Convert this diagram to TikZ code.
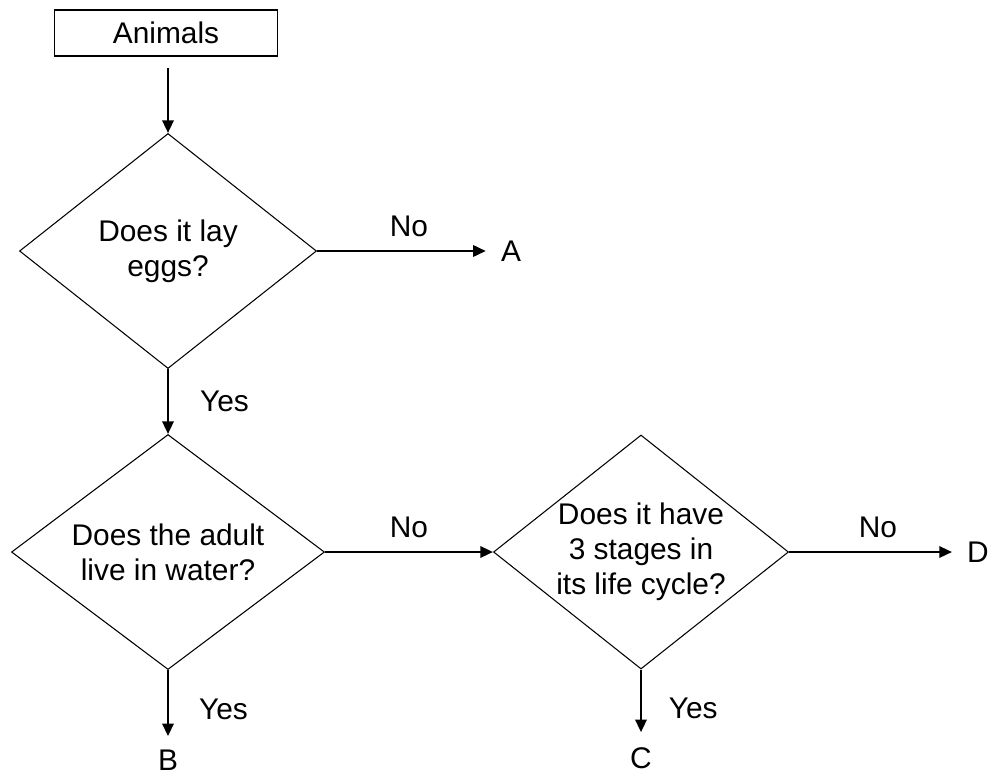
\documentclass[tikz,border=0pt]{standalone}
\usepackage{fontspec}
\setmainfont{Liberation Sans}
\usetikzlibrary{arrows.meta, shapes.geometric}

\begin{document}
\begin{tikzpicture}[x=0.03cm, y=-0.03cm, >={Triangle[length=0.38cm, width=0.34cm]},
  every node/.style={font=\fontsize{25.5}{30}\selectfont},
  startbox/.style={draw, line width=1.2pt, minimum width=6.69cm, minimum height=1.38cm, inner sep=0pt},
  decision/.style={diamond, draw, line width=0.9pt, inner sep=0pt, align=center},
  flow/.style={->, line width=2pt},
  lbl/.style={inner sep=0pt}]
\useasboundingbox (0,0) rectangle (992,778);
% start and questions
\node[startbox] (animals) at (166,33) {Animals};
\node[decision, aspect=1.26, minimum width=8.91cm, minimum height=7.05cm] (eggs) at (168,251) {Does it lay\\eggs?};
\node[decision, aspect=1.33, minimum width=9.39cm, minimum height=7.05cm] (water) at (168,552) {Does the adult\\live in water?};
\node[decision, aspect=1.26, minimum width=8.85cm, minimum height=7.02cm] (stages) at (641,552) {Does it have\\3 stages in\\its life cycle?};
% end points
\node[lbl] (A) at (511,251) {A};
\node[lbl] (B) at (168,760) {B};
\node[lbl] (C) at (641,758) {C};
\node[lbl] (D) at (978,552) {D};
% arrows
\draw[flow, shorten <=0.33cm] (animals.south -| eggs.north) -- (eggs.north);
\draw[flow, shorten >=0.45cm] (eggs) -- node[lbl, above=0.39cm] {No} (A);
\draw[flow] (eggs.south) -- node[lbl, right=0.93cm] {Yes} (water.north);
\draw[flow] (water) -- node[lbl, above=0.39cm] {No} (stages);
\draw[flow, shorten >=0.45cm] (stages) -- node[lbl, above=0.39cm] {No} (D);
\draw[flow, shorten >=0.4cm] (water) -- node[lbl, right=0.9cm] {Yes} (B);
\draw[flow, shorten >=0.45cm] (stages) -- node[lbl, right=0.8cm] {Yes} (C);
\end{tikzpicture}
\end{document}
